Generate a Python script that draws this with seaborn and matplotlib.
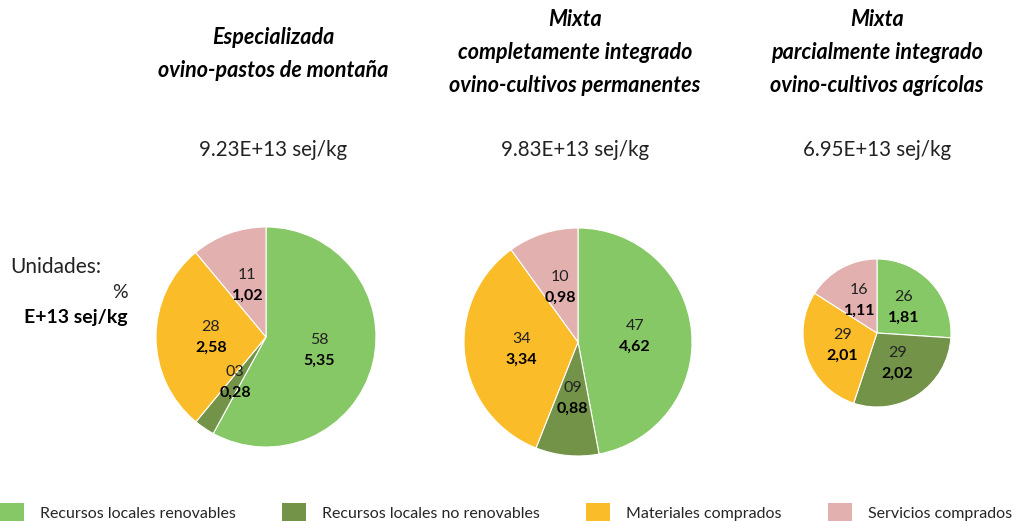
import matplotlib
matplotlib.use("Agg")
import matplotlib.pyplot as plt
from matplotlib.patches import Patch
import numpy as np
import seaborn as sns

sns.set_theme(style="white")
plt.rcParams['font.family'] = ['Lato', 'DejaVu Sans']

# data
categorias = ["Recursos locales renovables", "Recursos locales no renovables",
              "Materiales comprados", "Servicios comprados"]
titulos = ["Especializada\novino-pastos de montaña",
           "Mixta\ncompletamente integrado\novino-cultivos permanentes",
           "Mixta\nparcialmente integrado\novino-cultivos agrícolas"]
totales = ["9.23E+13 sej/kg", "9.83E+13 sej/kg", "6.95E+13 sej/kg"]
valores_esp = [5.35, 0.28, 2.58, 1.02]
valores_mct = [4.62, 0.88, 3.34, 0.98]
valores_mpi = [1.81, 2.02, 2.01, 1.11]
pct_esp = [58, 3, 28, 11]
pct_mct = [47, 9, 34, 10]
pct_mpi = [26, 29, 29, 16]

colores = sns.color_palette(["#87C866", "#739349", "#FBBC2A", "#E2B0AF"])

W, H = 1019, 521
fig = plt.figure(figsize=(W / 100, H / 100), dpi=100)

# pie centre / radius in pixels, title centre
layout = [
    dict(cx=266, cy=337, r=110, tx=273, ty0=38),
    dict(cx=578, cy=342, r=114, tx=575, ty0=20),
    dict(cx=877, cy=333, r=74, tx=877, ty0=20),
]
series = [(valores_esp, pct_esp), (valores_mct, pct_mct), (valores_mpi, pct_mpi)]

for lay, (vals, pcts), titulo, total in zip(layout, series, titulos, totales):
    cx, cy, r = lay["cx"], lay["cy"], lay["r"]
    ax = fig.add_axes([(cx - r) / W, (H - cy - r) / H, 2 * r / W, 2 * r / H])
    wedges, _ = ax.pie(vals, colors=colores, startangle=90, counterclock=False,
                       wedgeprops=dict(edgecolor="white", linewidth=0.8))
    ax.set_xlim(-1, 1)
    ax.set_ylim(-1, 1)
    ax.axis("off")
    for w, v, p in zip(wedges, vals, pcts):
        ang = np.deg2rad((w.theta1 + w.theta2) / 2)
        x, y = 0.5 * np.cos(ang), 0.5 * np.sin(ang)
        ax.annotate(f"{p:02d}", (x, y), xytext=(0, 7.5), textcoords="offset points",
                    ha="center", va="center", fontsize=11.5, color="#222222")
        ax.annotate(f"{v:.2f}".replace(".", ","), (x, y), xytext=(0, -7.5),
                    textcoords="offset points", ha="center", va="center",
                    fontsize=11.5, fontweight="bold", color="black")

    lines = titulo.split("\n")
    for i, line in enumerate(lines):
        fig.text(lay["tx"] / W, 1 - (lay["ty0"] + 32.5 * i) / H, line, ha="center", va="center",
                 fontsize=15.5, fontweight="bold", fontstyle="italic", color="black")
    fig.text(lay["tx"] / W, 1 - 150 / H, total, ha="center", va="center",
             fontsize=14.8, color="#222222")

fig.text(10 / W, 1 - 267 / H, "Unidades:", ha="left", va="center", fontsize=15, color="#222222")
fig.text(128 / W, 1 - 293 / H, "%", ha="right", va="center", fontsize=14, color="#222222")
fig.text(128 / W, 1 - 317 / H, "E+13 sej/kg", ha="right", va="center", fontsize=14,
         fontweight="bold", color="black")

handles = [Patch(facecolor=c, edgecolor="none") for c in colores]
fig.legend(handles, categorias, loc="upper left", bbox_to_anchor=(0, 1 - 503 / H),
           ncol=4, frameon=False, fontsize=11.5, borderpad=0, borderaxespad=0,
           handlelength=1.5, handleheight=1.5, handletextpad=1.0, columnspacing=2.9)

fig.savefig("out.png", dpi=100)
